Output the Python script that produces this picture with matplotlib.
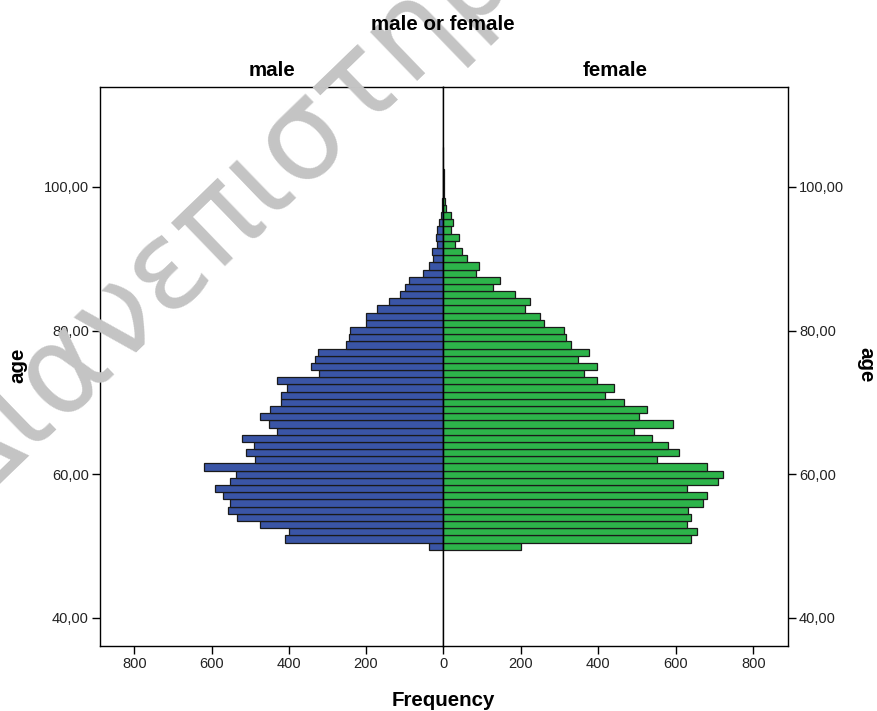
import numpy as np
import matplotlib
matplotlib.use("Agg")
import matplotlib.pyplot as plt
import matplotlib.transforms as mtransforms

plt.rcParams['font.family'] = ['Liberation Sans', 'DejaVu Sans']

# ages 50..105, one bar per year of age
ages = list(range(50, 106))
male = [36, 410, 398, 475, 533, 557, 552, 571, 590, 552,
        536, 619, 488, 511, 491, 522, 430, 450, 475, 448,
        421, 421, 404, 430, 321, 342, 331, 323, 251, 244,
        241, 199, 200, 170, 140, 111, 98, 89, 53, 37,
        25, 28, 15, 18, 15, 10, 6, 2, 2, 1,
        1, 1, 0, 0, 0, 0]
female = [200, 638, 654, 628, 638, 631, 669, 679, 628, 708,
          721, 680, 551, 609, 581, 539, 492, 593, 505, 525,
          467, 417, 441, 398, 363, 398, 348, 375, 330, 317,
          312, 260, 250, 211, 225, 186, 128, 146, 85, 93,
          63, 50, 31, 40, 21, 25, 21, 8, 4, 3,
          3, 2, 2, 1, 1, 1]
xticks = [0, 200, 400, 600, 800]
yticks = [40, 60, 80, 100]

BLUE = '#3a55a6'
GREEN = '#2db44a'
EDGE = '#1a1a1a'

fig = plt.figure(figsize=(8.77, 7.11), dpi=100)
W, H = 877, 711
x0, x_mid, x1 = 100, 443, 788
y_top, y_bot = 87, 646
b = 1 - y_bot / H
h = (y_bot - y_top) / H
axL = fig.add_axes([x0 / W, b, (x_mid - x0) / W, h])
axR = fig.add_axes([x_mid / W, b, (x1 - x_mid) / W, h])

xmax = 889
ylo, yhi = 36.1, 113.9

axL.barh(ages, male, height=1.0, color=BLUE, edgecolor=EDGE, linewidth=0.9)
axR.barh(ages, female, height=1.0, color=GREEN, edgecolor=EDGE, linewidth=0.9)

fmt = lambda v: f"{v:.2f}".replace('.', ',')

axL.set_xlim(xmax, 0)
axR.set_xlim(0, xmax)
for ax in (axL, axR):
    ax.set_ylim(ylo, yhi)
    ax.set_xticks(xticks)
    ax.set_xticklabels([str(t) for t in xticks])
    ax.set_yticks(yticks)
    ax.set_yticklabels([fmt(t) for t in yticks])
    ax.tick_params(axis='both', length=6, width=1, labelsize=10.5,
                   colors='black', labelcolor='#222222', pad=2)
    for s in ax.spines.values():
        s.set_linewidth(1.0)
        s.set_color('black')

axL.yaxis.set_ticks_position('left')
axR.yaxis.set_ticks_position('right')
axR.yaxis.set_label_position('right')
# the centre 0 tick is shared; hide the duplicate on the left panel
axL.set_xticks([200, 400, 600, 800])

axL.set_title('male', fontsize=14.8, fontweight='bold', pad=8)
axR.set_title('female', fontsize=14.8, fontweight='bold', pad=8)
fig.text(443 / W, 1 - 25 / H, 'male or female', ha='center', va='center',
         fontsize=14.8, fontweight='bold')
fig.text(443 / W, 1 - 700 / H, 'Frequency', ha='center', va='center',
         fontsize=14.8, fontweight='bold')
fig.text(18 / W, 1 - 365 / H, 'age', ha='center', va='center', rotation=90,
         fontsize=14.8, fontweight='bold')
fig.text(866 / W, 1 - 365 / H, 'age', ha='center', va='center', rotation=-90,
         fontsize=14.8, fontweight='bold')

# watermark (runs off the canvas, as in the source image)
fig.text(-31, 198, 'Διανεπιστημιακό', transform=mtransforms.IdentityTransform(),
         rotation=44, rotation_mode='anchor', ha='left', va='baseline',
         fontsize=89, color='#c4c4c4', family='DejaVu Sans', zorder=0)

fig.savefig('out.png', dpi=100)
